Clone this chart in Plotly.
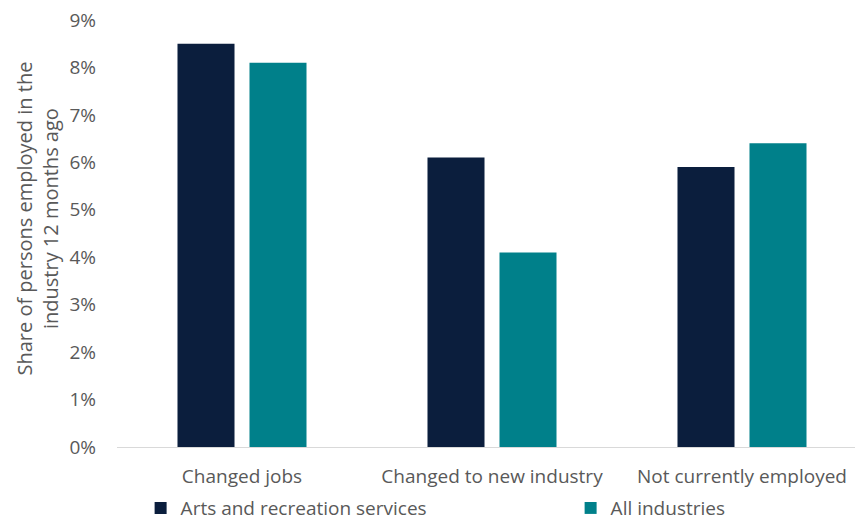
import plotly.graph_objects as go

categories = ["Changed jobs", "Changed to new industry", "Not currently employed"]
arts_recreation = [8.5, 6.1, 5.9]
all_industries = [8.1, 4.1, 6.4]
y_ticks = [0, 1, 2, 3, 4, 5, 6, 7, 8, 9]
y_tick_labels = [f"{v}%" for v in y_ticks]

NAVY = "#0B1E3D"
TEAL = "#00808A"
TEXT = "#595959"
FONT = "Open Sans"
SIZE = 19

fig = go.Figure()
fig.add_trace(go.Bar(name="Arts and recreation services", x=categories, y=arts_recreation,
                     marker=dict(color=NAVY, line=dict(width=0)), legendwidth=385))
fig.add_trace(go.Bar(name="All industries", x=categories, y=all_industries,
                     marker=dict(color=TEAL, line=dict(width=0)), legendwidth=150))

fig.update_layout(
    width=855, height=522,
    margin=dict(l=117, r=0, t=20, b=75, autoexpand=False),
    paper_bgcolor="white", plot_bgcolor="white",
    barmode="group", bargap=0.424, bargroupgap=0.208,
    font=dict(family=FONT, size=SIZE, color=TEXT),
    showlegend=True,
    legend=dict(orientation="h", x=0.032, xanchor="left", y=-0.143, yanchor="middle",
                font=dict(family=FONT, size=SIZE, color=TEXT)),
)
fig.update_xaxes(range=[-0.5, 2.452], showline=True, linecolor="#D9D9D9", linewidth=1,
                 ticks="", showgrid=False, tickfont=dict(family=FONT, size=SIZE, color=TEXT),
                 ticklabelstandoff=12)
fig.update_yaxes(range=[0, 9], tickvals=y_ticks, ticktext=y_tick_labels, showgrid=False,
                 zeroline=False, showline=False, ticks="",
                 tickfont=dict(family=FONT, size=SIZE, color=TEXT), ticklabelstandoff=20)

# Vertical axis title, placed a little above the plot's middle
fig.add_annotation(text="Share of persons employed in the<br>industry 12 months ago",
                   xref="paper", yref="paper", x=0, y=0.535, xshift=-79,
                   xanchor="center", yanchor="middle", textangle=-90, showarrow=False,
                   font=dict(family=FONT, size=20, color=TEXT))

fig.write_html("out.html")
